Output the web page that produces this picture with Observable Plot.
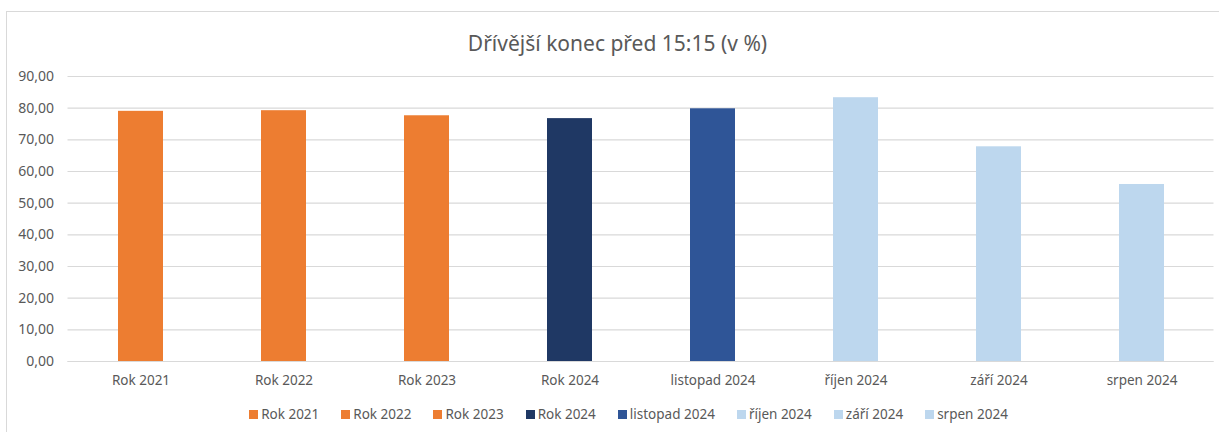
<!DOCTYPE html>
<html>
<head>
<meta charset="utf-8">
<script src="https://cdn.jsdelivr.net/npm/d3@7"></script>
<script src="https://cdn.jsdelivr.net/npm/@observablehq/plot@0.6"></script>
<style>
  html, body { margin: 0; padding: 0; background: #fff; }
  #wrap { position: relative; width: 1219px; height: 432px; overflow: hidden; font-family: "Noto Sans", sans-serif; }
  #frame { position: absolute; left: 6px; top: 11px; width: 1300px; height: 500px; border-left: 1px solid #d9d9d9; border-top: 1px solid #d9d9d9; }
  #title { position: absolute; left: 8px; width: 1219px; top: 28px; text-align: center; font-size: 21px; color: #595959; line-height: 30px; }
  #chart { position: absolute; left: 0; top: 0; }
  #legend { position: absolute; left: 30px; width: 1219px; top: 404px; }
  #legend .lg-swatches { justify-content: center !important; min-height: 20px !important; margin: 0 !important; font-family: "Noto Sans", sans-serif !important; font-size: 13.5px !important; color: #595959 !important; }
  #legend .lg-swatch { margin-right: 22px !important; }
  #legend .lg-swatch > svg { margin-right: 3px !important; }
</style>
</head>
<body>
<div id="wrap">
  <div id="frame"></div>
  <div id="title"></div>
  <div id="chart"></div>
  <div id="legend"></div>
</div>
<script>
const titleText = "Dřívější konec před 15:15 (v %)";
const categories = ["Rok 2021", "Rok 2022", "Rok 2023", "Rok 2024", "listopad 2024", "říjen 2024", "září 2024", "srpen 2024"];
const values = [79.0, 79.2, 77.6, 76.7, 79.8, 83.3, 67.8, 55.9];
const colors = ["#ED7D31", "#ED7D31", "#ED7D31", "#1F3864", "#2F5597", "#BDD7EE", "#BDD7EE", "#BDD7EE"];
const yTicks = [0, 10, 20, 30, 40, 50, 60, 70, 80, 90];

const data = categories.map((c, i) => ({category: c, value: values[i]}));
const fmt = d => d.toFixed(2).replace(".", ",");

document.getElementById("title").textContent = titleText;

const colorScale = {domain: categories, range: colors};

const chart = Plot.plot({
  width: 1219,
  height: 392,
  marginLeft: 67.5,
  marginRight: 5.5,
  marginTop: 76,
  marginBottom: 31,
  style: {fontFamily: "Noto Sans, sans-serif", fontSize: "13.5px", color: "#595959", background: "transparent"},
  x: {domain: categories, paddingInner: 0.686, paddingOuter: 0.343},
  y: {domain: [0, 90]},
  color: colorScale,
  marks: [
    Plot.gridY(yTicks, {stroke: "#d9d9d9", strokeOpacity: 1, strokeWidth: 1.2}),
    Plot.barY(data, {x: "category", y: "value", fill: "category"}),
    Plot.ruleY([0], {stroke: "#d9d9d9", strokeWidth: 1.2}),
    Plot.axisX({label: null, tickSize: 0, tickPadding: 14, fontSize: 13.5}),
    Plot.axisY(yTicks, {label: null, tickSize: 0, tickPadding: 14, tickFormat: fmt, fontSize: 14})
  ]
});
chart.querySelectorAll("text").forEach(t => t.setAttribute("fill", "#595959"));
document.getElementById("chart").appendChild(chart);

const legend = Plot.legend({
  color: colorScale,
  swatchSize: 9,
  className: "lg"
});
document.getElementById("legend").appendChild(legend);
</script>
</body>
</html>
